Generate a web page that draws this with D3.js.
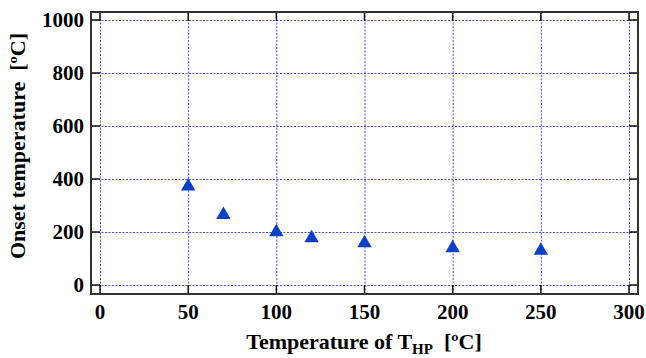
<!DOCTYPE html>
<html>
<head>
<meta charset="utf-8">
<script src="https://cdn.jsdelivr.net/npm/d3@7"></script>
<style>
  body { margin: 0; background: #fff; }
</style>
</head>
<body>
<div id="chart"></div>
<script>
// data
const tempHP = [50, 70, 100, 120, 150, 200, 250];
const onsetTemp = [372, 265, 200, 177, 158, 139, 130];
const xTicks = [0, 50, 100, 150, 200, 250, 300];
const yTicks = [0, 200, 400, 600, 800, 1000];

let dimensions = {
  width: 646,
  height: 358,
  frame: { left: 91, right: 638, top: 12, bottom: 294 }
};

let svg = d3.select('#chart')
  .append('svg')
  .attr('width', dimensions.width)
  .attr('height', dimensions.height)
  .attr('font-family', 'Liberation Serif')
  .attr('font-weight', 'bold');

let x = d3.scaleLinear().domain([0, 300]).range([100, 629]);
let y = d3.scaleLinear().domain([0, 1000]).range([285, 20]);

let f = dimensions.frame;

// grid
let grid = svg.append('g')
  .attr('stroke', '#4a4af0')
  .attr('stroke-width', 1)
  .attr('stroke-dasharray', '2,1.5');

grid.selectAll('.vg')
  .data(xTicks)
  .enter()
  .append('line')
  .attr('x1', d => x(d) + 0.5)
  .attr('x2', d => x(d) + 0.5)
  .attr('y1', f.top)
  .attr('y2', f.bottom);

grid.selectAll('.hg')
  .data(yTicks)
  .enter()
  .append('line')
  .attr('x1', f.left)
  .attr('x2', f.right)
  .attr('y1', d => y(d) + 0.5)
  .attr('y2', d => y(d) + 0.5);

// ticks, inward on all four sides
let tickLen = 9;
let ticks = svg.append('g').attr('stroke', '#111').attr('stroke-width', 1.5);
xTicks.forEach(t => {
  ticks.append('line').attr('x1', x(t)).attr('x2', x(t)).attr('y1', f.bottom).attr('y2', f.bottom - tickLen);
  ticks.append('line').attr('x1', x(t)).attr('x2', x(t)).attr('y1', f.top).attr('y2', f.top + tickLen);
});
yTicks.forEach(t => {
  ticks.append('line').attr('x1', f.left).attr('x2', f.left + tickLen).attr('y1', y(t)).attr('y2', y(t));
  ticks.append('line').attr('x1', f.right).attr('x2', f.right - tickLen).attr('y1', y(t)).attr('y2', y(t));
});

// frame
svg.append('rect')
  .attr('x', f.left)
  .attr('y', f.top)
  .attr('width', f.right - f.left)
  .attr('height', f.bottom - f.top)
  .attr('fill', 'none')
  .attr('stroke', '#333')
  .attr('stroke-width', 2);

// tick labels
svg.selectAll('.xl')
  .data(xTicks)
  .enter()
  .append('text')
  .attr('x', d => x(d))
  .attr('y', 319)
  .attr('text-anchor', 'middle')
  .attr('font-size', 21)
  .text(d => d);

svg.selectAll('.yl')
  .data(yTicks)
  .enter()
  .append('text')
  .attr('x', 84)
  .attr('y', d => y(d) + 7)
  .attr('text-anchor', 'end')
  .attr('font-size', 21)
  .text(d => d);

// axis titles
let xt = svg.append('text')
  .attr('x', 364)
  .attr('y', 349)
  .attr('text-anchor', 'middle')
  .attr('font-size', 22);
xt.append('tspan').text('Temperature of T');
xt.append('tspan').attr('dy', 5).attr('font-size', 15).text('HP');
xt.append('tspan').attr('dy', -5).text('\u00a0\u00a0[ºC]');

svg.append('text')
  .attr('transform', 'translate(25,146) rotate(-90)')
  .attr('text-anchor', 'middle')
  .attr('font-size', 22)
  .text('Onset temperature\u00a0\u00a0[ºC]');

// points
svg.selectAll('.pt')
  .data(tempHP)
  .enter()
  .append('path')
  .attr('d', d3.symbol().type(d3.symbolTriangle).size(90))
  .attr('transform', (d, i) => `translate(${x(d)},${y(onsetTemp[i])})`)
  .attr('fill', '#0a3fc8');
</script>
</body>
</html>
